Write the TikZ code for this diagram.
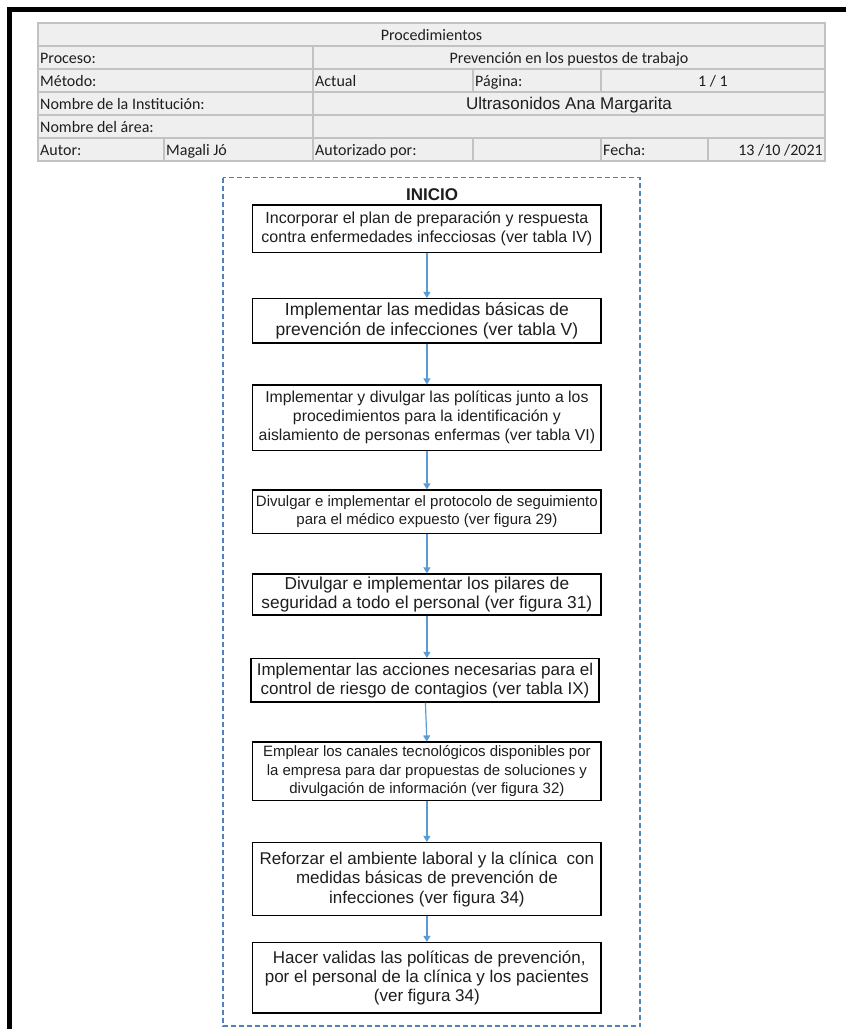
\documentclass[tikz,border=0pt]{standalone}
\usepackage{fontspec}
\setmainfont{Liberation Sans}
\newfontfamily\tablefont{Carlito}
\usetikzlibrary{arrows.meta}

\definecolor{gridgray}{HTML}{C2C2C2}
\definecolor{cellfill}{HTML}{EFEFEF}
\definecolor{flowblue}{HTML}{5B9BD5}
\definecolor{frameblue}{HTML}{4F81BD}
\definecolor{inkgray}{HTML}{1E1E1E}

\begin{document}
\begin{tikzpicture}[x=1pt,y=-1pt,
  cell/.style={inner sep=0pt, font=\tablefont\fontsize{16}{18}\selectfont, text=inkgray},
  gridline/.style={draw=gridgray, line width=1.3pt},
  stepbox/.style={draw=black, line width=1.2pt, minimum width=348.3pt, inner sep=0pt,
    align=center, text=inkgray},
  link/.style={draw=flowblue, line width=1.2pt, -{Triangle[length=6pt,width=7pt]}},
]
\useasboundingbox (0,0) rectangle (846,1029);
\fill[white] (0,0) rectangle (846,1029);

% page border (top and left edges)
\fill[black] (7,7) rectangle (846,12);
\fill[black] (7,7) rectangle (12,1029);

% header table
\fill[cellfill] (38,23) rectangle (825,161);
\draw[gridline] (38,23) rectangle (825,161);
\foreach \y in {46,69,92,115,138} \draw[gridline] (38,\y) -- (825,\y);
\draw[gridline] (313,46) -- (313,161);
\draw[gridline] (473,69) -- (473,92);
\draw[gridline] (601,69) -- (601,92);
\draw[gridline] (164,138) -- (164,161);
\draw[gridline] (473,138) -- (473,161);
\draw[gridline] (601,138) -- (601,161);
\draw[gridline] (708,138) -- (708,161);

\node[cell, anchor=base] (tproc) at (431.5,40) {Procedimientos};
\node[cell, anchor=base west] (tproceso) at (40,63) {Proceso:};
\node[cell, anchor=base] (tprev) at (569,63) {Prevención en los puestos de trabajo};
\node[cell, anchor=base west] (tmetodo) at (40,86) {Método:};
\node[cell, anchor=base west] (tactual) at (315,86) {Actual};
\node[cell, anchor=base west] (tpagina) at (475,86) {Página:};
\node[cell, anchor=base] (tpagnum) at (713,86) {1 / 1};
\node[cell, anchor=base west] (tinst) at (40,109) {Nombre de la Institución:};
\node[cell, anchor=base, font=\fontsize{17}{18}\selectfont] (tinstname) at (569,109) {Ultrasonidos Ana Margarita};
\node[cell, anchor=base west] (tarea) at (40,132) {Nombre del área:};
\node[cell, anchor=base west] (tautor) at (40,155) {Autor:};
\node[cell, anchor=base west] (tautorname) at (166,155) {Magali Jó};
\node[cell, anchor=base west] (tautoriz) at (315,155) {Autorizado por:};
\node[cell, anchor=base west] (tfecha) at (603,155) {Fecha:};
\node[cell, anchor=base east] (tfechaval) at (823,155) {13 /10 /2021};

% flowchart frame
\draw[frameblue, line width=1.2pt, dash pattern=on 5pt off 3pt] (223,177.5) rectangle (640,1026);

\node[font=\bfseries\fontsize{17}{20}\selectfont, text=inkgray, inner sep=0pt] (inicio) at (432,195) {INICIO};

\node[stepbox, minimum height=47.5pt, font=\fontsize{16}{19}\selectfont] (b1) at (426.9,228.75)
  {Incorporar el plan de preparación y respuesta\\contra enfermedades infecciosas (ver tabla IV)};
\node[stepbox, minimum height=44.5pt, font=\fontsize{17.5}{19.5}\selectfont] (b2) at (426.9,320.75)
  {Implementar las medidas básicas de\\prevención de infecciones (ver tabla V)};
\node[stepbox, minimum height=65.5pt, font=\fontsize{15.8}{19}\selectfont] (b3) at (426.9,417.75)
  {Implementar y divulgar las políticas junto a los\\procedimientos para la identificación y\\aislamiento de personas enfermas (ver tabla VI)};
\node[stepbox, minimum height=43.5pt, font=\fontsize{15}{17.5}\selectfont] (b4) at (426.9,511.75)
  {Divulgar e implementar el protocolo de seguimiento\\para el médico expuesto (ver figura 29)};
\node[stepbox, minimum height=41pt, font=\fontsize{17.3}{19}\selectfont] (b5) at (426.9,594.5)
  {Divulgar e implementar los pilares de\\seguridad a todo el personal (ver figura 31)};
\node[stepbox, minimum height=43.5pt, minimum width=348pt, font=\fontsize{17}{19}\selectfont] (b6) at (425,680.25)
  {Implementar las acciones necesarias para el\\control de riesgo de contagios (ver tabla IX)};
\node[stepbox, minimum height=58.5pt, font=\fontsize{15}{18.5}\selectfont] (b7) at (426.9,771.25)
  {Emplear los canales tecnológicos disponibles por\\la empresa para dar propuestas de soluciones y\\divulgación de información (ver figura 32)};
\node[stepbox, minimum height=73pt, font=\fontsize{17}{19.5}\selectfont] (b8) at (426.9,879)
  {Reforzar el ambiente laboral y la clínica~ con\\medidas básicas de prevención de\\infecciones (ver figura 34)};
\node[stepbox, minimum height=70.5pt, font=\fontsize{17}{19}\selectfont] (b9) at (426.9,977.75)
  {~Hacer validas las políticas de prevención,\\por el personal de la clínica y los pacientes\\(ver figura 34)};

\draw[link] (b1) -- (b2);
\draw[link] (b2) -- (b3);
\draw[link] (b3) -- (b4);
\draw[link] (b4) -- (b5);
\draw[link] (b5.south -| b4.south) -- (b6.north -| b4.south);
\draw[link] ([xshift=-1.5pt]b6.south -| b4.south) -- (b7.north);
\draw[link] (b7) -- (b8);
\draw[link] (b8) -- (b9);
\end{tikzpicture}
\end{document}
